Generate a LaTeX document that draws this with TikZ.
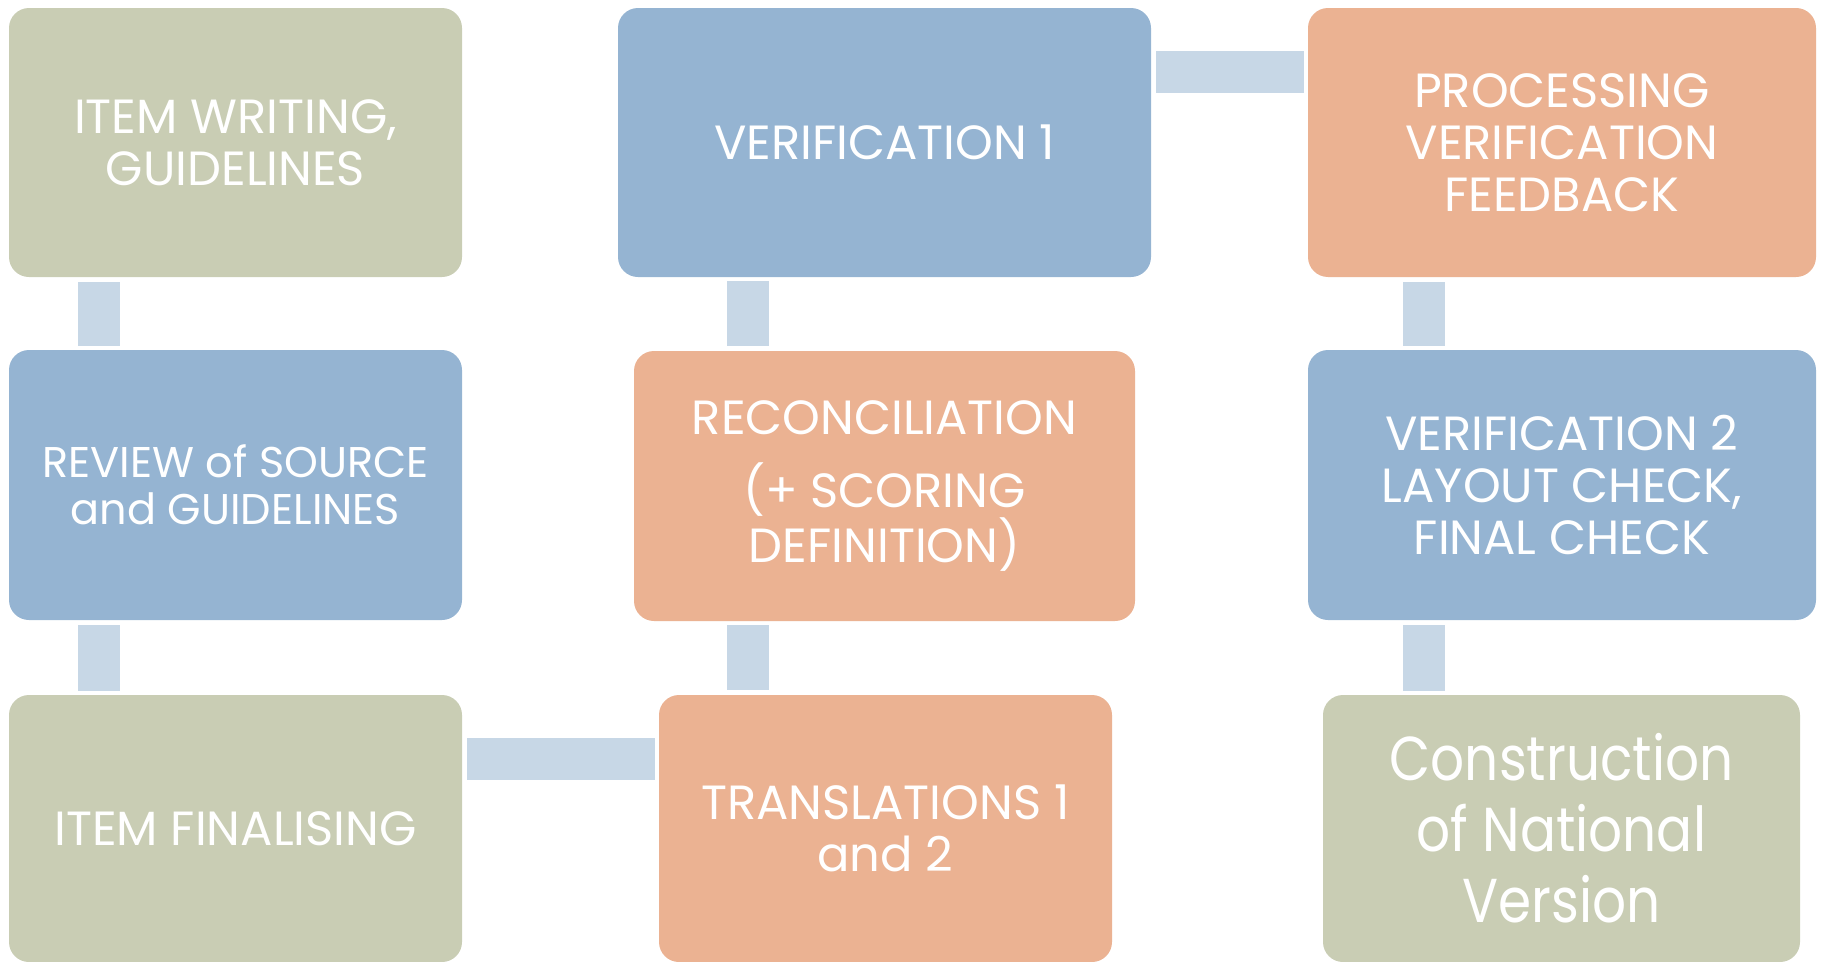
\documentclass[tikz,border=0pt]{standalone}
\usepackage{fontspec}
\setmainfont{Poppins}
\newfontfamily\narrowpop[FakeStretch=0.86]{Poppins}
\definecolor{boxgreen}{RGB}{201,205,180}
\definecolor{boxblue}{RGB}{149,180,210}
\definecolor{boxorange}{RGB}{235,178,146}
\definecolor{connc}{RGB}{199,215,230}
\tikzset{
  stepbox/.style={rectangle, rounded corners=20pt, draw=none, inner sep=0pt,
    align=center, text=white, minimum height=269pt,
    font=\fontsize{48}{52}\selectfont},
  gbox/.style={stepbox, fill=boxgreen},
  bbox/.style={stepbox, fill=boxblue},
  obox/.style={stepbox, fill=boxorange},
  conn/.style={draw=connc, line width=42pt, shorten <=5pt, shorten >=4pt},
}
\begin{document}
\begin{tikzpicture}[x=1pt, y=-1pt]
\useasboundingbox (0,0) rectangle (1825,961);
% column / row guide coordinates for connectors
\coordinate (c1) at (99,0);
\coordinate (c2) at (748,0);
\coordinate (c3) at (1424,0);
\coordinate (r1) at (0,72);
\coordinate (r3) at (0,759);
% row 1
\node[gbox, minimum width=453pt] (b1) at (235.5,142.5) {ITEM WRITING,\\GUIDELINES};
\node[bbox, minimum width=533pt] (b2) at (884.5,142.5) {VERIFICATION 1};
\node[obox, minimum width=508pt] (b3) at (1562,142.5) {PROCESSING\\VERIFICATION\\FEEDBACK};
% row 2
\node[bbox, minimum width=453pt, minimum height=270pt, font=\fontsize{43}{46.5}\selectfont] (b4) at (235.5,485) {REVIEW of SOURCE\\and GUIDELINES};
\node[obox, minimum width=501pt, minimum height=270pt] (b5) at (884.5,486) {RECONCILIATION\\[21pt](+ SCORING\\DEFINITION)};
\node[bbox, minimum width=508pt, minimum height=270pt] (b6) at (1562,485) {VERIFICATION 2\\LAYOUT CHECK,\\FINAL CHECK};
% row 3
\node[gbox, minimum width=453pt, minimum height=267pt] (b7) at (235.5,828.5) {ITEM FINALISING};
\node[obox, minimum width=453pt, minimum height=267pt] (b8) at (885.5,828.5) {TRANSLATIONS 1\\and 2};
\node[gbox, minimum width=477pt, minimum height=267pt, font=\narrowpop\fontsize{62}{71}\selectfont] (b9) at (1561.5,828.5) {Construction\\of National\\Version};
% connectors
\draw[conn] (b1.south -| c1) -- (b4.north -| c1);
\draw[conn] (b4.south -| c1) -- (b7.north -| c1);
\draw[conn] (b7.east |- r3) -- (b8.west |- r3);
\draw[conn] (b8.north -| c2) -- (b5.south -| c2);
\draw[conn] (b5.north -| c2) -- (b2.south -| c2);
\draw[conn] (b2.east |- r1) -- (b3.west |- r1);
\draw[conn] (b3.south -| c3) -- (b6.north -| c3);
\draw[conn] (b6.south -| c3) -- (b9.north -| c3);
\end{tikzpicture}
\end{document}
